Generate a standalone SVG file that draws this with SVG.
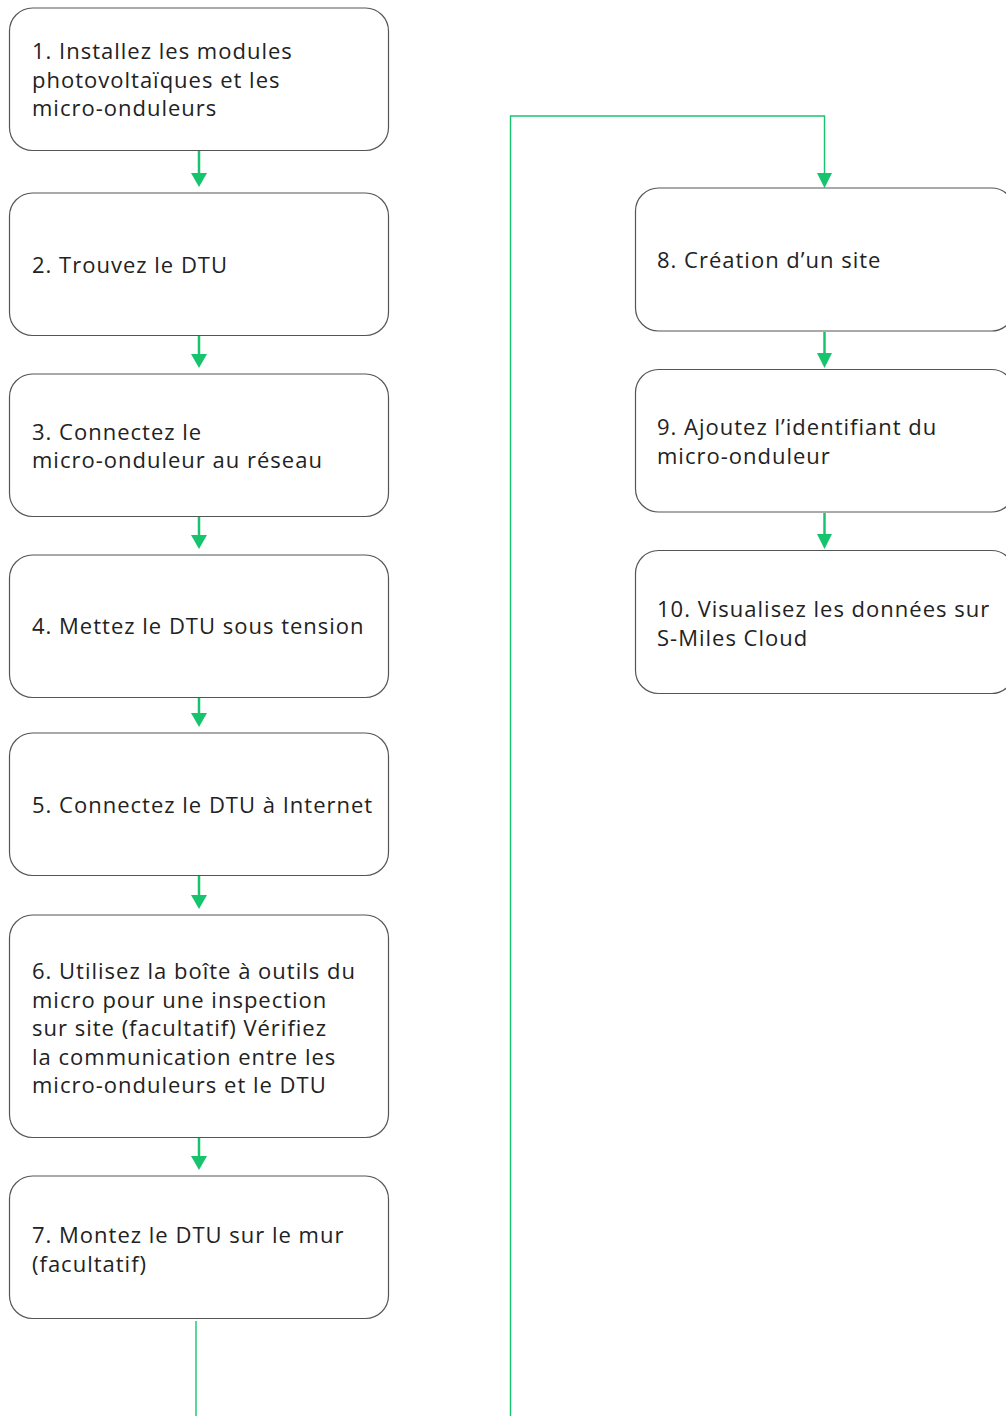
<svg xmlns="http://www.w3.org/2000/svg" width="1006" height="1416" viewBox="0 0 1006 1416">
<defs>
<style>
.box{fill:#fff;stroke:#555;stroke-width:1.2}
.t{font-family:"Open Sans","Noto Sans","DejaVu Sans",sans-serif;font-size:22px;letter-spacing:1px;fill:#222}
.c{fill:none;stroke:#17C46E;stroke-width:2.5}
.c2{fill:none;stroke:#17C46E;stroke-width:1.4}
.ah{fill:#17C46E}
</style>
</defs>
<rect width="1006" height="1416" fill="#fff"/>
<g id="connectors">
<line class="c" x1="199" y1="151" x2="199" y2="174"/><polygon class="ah" points="191,173 207,173 199,187"/>
<line class="c" x1="199" y1="336" x2="199" y2="355"/><polygon class="ah" points="191,354 207,354 199,368"/>
<line class="c" x1="199" y1="517" x2="199" y2="536"/><polygon class="ah" points="191,535 207,535 199,549"/>
<line class="c" x1="199" y1="698" x2="199" y2="714"/><polygon class="ah" points="191,713 207,713 199,727"/>
<line class="c" x1="199" y1="876" x2="199" y2="896"/><polygon class="ah" points="191,895 207,895 199,909"/>
<line class="c" x1="199" y1="1138" x2="199" y2="1157"/><polygon class="ah" points="191,1156 207,1156 199,1170"/>
<line class="c2" x1="196" y1="1321" x2="196" y2="1416"/>
<polyline class="c2" points="510.5,1416 510.5,116 824.5,116 824.5,174"/><polygon class="ah" points="817,173 832,173 824.5,188"/>
<line class="c" x1="824.5" y1="332" x2="824.5" y2="354"/><polygon class="ah" points="817,353 832,353 824.5,368"/>
<line class="c" x1="824.5" y1="513" x2="824.5" y2="535"/><polygon class="ah" points="817,534 832,534 824.5,549"/>
</g>
<g id="n1"><rect class="box" x="9.5" y="8" width="379" height="142.5" rx="23"/>
<text class="t" x="32" y="59">1. Installez les modules</text><text class="t" x="32" y="87.5">photovoltaïques et les</text><text class="t" x="32" y="116">micro-onduleurs</text></g>
<g id="n2"><rect class="box" x="9.5" y="193" width="379" height="142.5" rx="23"/>
<text class="t" x="32" y="273">2. Trouvez le DTU</text></g>
<g id="n3"><rect class="box" x="9.5" y="374" width="379" height="142.5" rx="23"/>
<text class="t" x="32" y="439.5">3. Connectez le</text><text class="t" x="32" y="468">micro-onduleur au réseau</text></g>
<g id="n4"><rect class="box" x="9.5" y="555" width="379" height="142.5" rx="23"/>
<text class="t" x="32" y="634">4. Mettez le DTU sous tension</text></g>
<g id="n5"><rect class="box" x="9.5" y="733" width="379" height="142.5" rx="23"/>
<text class="t" x="32" y="813">5. Connectez le DTU à Internet</text></g>
<g id="n6"><rect class="box" x="9.5" y="915" width="379" height="222.5" rx="23"/>
<text class="t" x="32" y="979">6. Utilisez la boîte à outils du</text><text class="t" x="32" y="1007.5">micro pour une inspection</text><text class="t" x="32" y="1036">sur site (facultatif) Vérifiez</text><text class="t" x="32" y="1064.5">la communication entre les</text><text class="t" x="32" y="1093">micro-onduleurs et le DTU</text></g>
<g id="n7"><rect class="box" x="9.5" y="1176" width="379" height="142.5" rx="23"/>
<text class="t" x="32" y="1243">7. Montez le DTU sur le mur</text><text class="t" x="32" y="1271.5">(facultatif)</text></g>
<g id="n8"><rect class="box" x="635.5" y="188" width="379" height="143" rx="23"/>
<text class="t" x="657" y="268">8. Création d’un site</text></g>
<g id="n9"><rect class="box" x="635.5" y="369.5" width="379" height="142.5" rx="23"/>
<text class="t" x="657" y="435">9. Ajoutez l’identifiant du</text><text class="t" x="657" y="463.5">micro-onduleur</text></g>
<g id="n10"><rect class="box" x="635.5" y="550.5" width="379" height="143" rx="23"/>
<text class="t" x="657" y="617">10. Visualisez les données sur</text><text class="t" x="657" y="645.5">S-Miles Cloud</text></g>
</svg>
